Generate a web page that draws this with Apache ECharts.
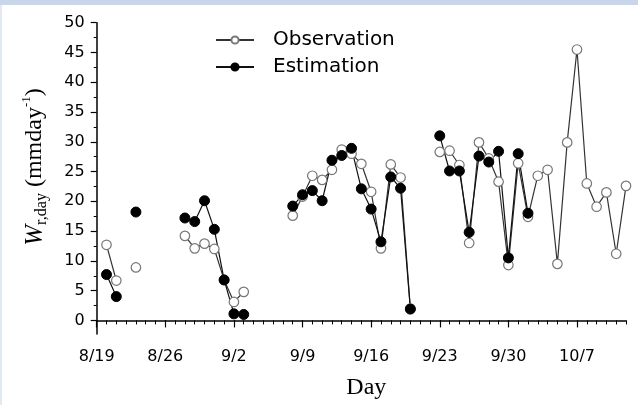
<!DOCTYPE html>
<html>
<head>
<meta charset="utf-8">
<script src="https://cdn.jsdelivr.net/npm/echarts@6/dist/echarts.min.js"></script>
<style>
  html, body { margin: 0; padding: 0; background: #fff; }
  #chart { width: 638px; height: 405px; }
</style>
</head>
<body>
<div id="chart"></div>
<script>
// day 0 = 8/19, one value per day (mm/day), null = no data
const obsValues = [
  null, 12.7, 6.7, null, 8.9, null, null,
  null, null, 14.2, 12.1, 12.9, 12.0, 6.8,
  3.1, 4.8, null, null, null, null, 17.6,
  20.8, 24.3, 23.6, 25.3, 28.7, 28.0, 26.3,
  21.6, 12.1, 26.2, 24.0, 2.0, null, null,
  28.3, 28.5, 26.1, 13.0, 29.9, 27.2, 23.3,
  9.3, 26.4, 17.4, 24.3, 25.3, 9.5, 29.9,
  45.5, 23.0, 19.1, 21.5, 11.2, 22.6
];
const estValues = [
  null, 7.7, 4.0, null, 18.2, null, null,
  null, null, 17.2, 16.6, 20.1, 15.3, 6.8,
  1.1, 1.0, null, null, null, null, 19.2,
  21.1, 21.8, 20.1, 26.9, 27.7, 28.9, 22.1,
  18.7, 13.2, 24.1, 22.2, 1.9, null, null,
  31.0, 25.1, 25.1, 14.8, 27.6, 26.6, 28.4,
  10.5, 28.0, 18.0, null, null, null, null,
  null, null, null, null, null, null
];
// tick labels
const majorDays = [0, 7, 14, 21, 28, 35, 42, 49];
const dateLabels = ['8/19', '8/26', '9/2', '9/9', '9/16', '9/23', '9/30', '10/7'];
const yMajor = [0, 5, 10, 15, 20, 25, 30, 35, 40, 45, 50];
const yMinor = [2.5, 7.5, 12.5, 17.5, 22.5, 27.5, 32.5, 37.5, 42.5, 47.5];
const lastDay = 54;

const chart = echarts.init(document.getElementById('chart'));

function toPoints(values) {
  return values.map((v, i) => [i, v == null ? '-' : v]);
}

const tickFont = { fontFamily: 'DejaVu Sans', fontSize: 16, color: '#000' };
const axisLine = { show: true, lineStyle: { color: '#000', width: 1.5 } };

const option = {
  animation: false,
  backgroundColor: '#fff',
  grid: { left: 96.7, top: 22.7, width: 529.3, height: 311.6 },
  legend: {
    orient: 'vertical',
    left: 215,
    top: 30,
    padding: 0,
    itemWidth: 38,
    itemHeight: 9,
    itemGap: 7,
    textStyle: { fontFamily: 'DejaVu Sans', fontSize: 20, color: '#000', padding: [0, 0, 0, 14] },
    data: ['Observation', 'Estimation']
  },
  xAxis: [
    {
      type: 'value', min: 0, max: lastDay, position: 'bottom',
      axisLine: axisLine,
      axisTick: { length: 7, customValues: majorDays, lineStyle: { color: '#000', width: 1.2 } },
      axisLabel: Object.assign({
        customValues: majorDays, margin: 15,
        formatter: v => dateLabels[majorDays.indexOf(v)] || ''
      }, tickFont),
      splitLine: { show: false },
      name: 'Day', nameLocation: 'middle', nameGap: 42,
      nameTextStyle: { fontFamily: 'Liberation Serif', fontSize: 24, color: '#000', padding: [0, 0, 0, 10] }
    },
    {
      // daily minor ticks
      type: 'value', min: 0, max: lastDay, interval: 1, position: 'bottom',
      axisLine: { show: false },
      axisTick: { length: 4, lineStyle: { color: '#000', width: 1 } },
      axisLabel: { show: false },
      splitLine: { show: false }
    }
  ],
  yAxis: [
    {
      type: 'value', min: -2.28, max: 50, position: 'left',
      axisLine: axisLine,
      axisTick: { length: 6, customValues: yMajor, lineStyle: { color: '#000', width: 1.2 } },
      axisLabel: Object.assign({ customValues: yMajor, margin: 12 }, tickFont),
      splitLine: { show: false }
    },
    {
      type: 'value', min: -2.28, max: 50, position: 'left',
      axisLine: { show: false },
      axisTick: { length: 3, customValues: yMinor, lineStyle: { color: '#000', width: 1 } },
      axisLabel: { show: false },
      splitLine: { show: false }
    }
  ],
  graphic: [
    { type: 'rect', shape: { x: 0, y: 0, width: 638, height: 5 }, style: { fill: '#c9d5e9' } },
    { type: 'rect', shape: { x: 0, y: 5, width: 2, height: 400 }, style: { fill: '#e2e9f3' } },
    {
      // y axis title: W_{r,day} (mmday^-1)
      type: 'text', x: 35, y: 167, rotation: Math.PI / 2,
      style: {
        text: '{w|W}{s|r,day}{n| (mmday}{p|-1}{n|)}',
        align: 'center', verticalAlign: 'middle',
        fill: '#000',
        rich: {
          w: { fontFamily: 'Liberation Serif', fontStyle: 'italic', fontSize: 25, lineHeight: 30, verticalAlign: 'middle' },
          s: { fontFamily: 'Liberation Serif', fontSize: 16, lineHeight: 14, verticalAlign: 'bottom' },
          n: { fontFamily: 'Liberation Serif', fontSize: 24, lineHeight: 30, verticalAlign: 'middle' },
          p: { fontFamily: 'Liberation Serif', fontSize: 13, lineHeight: 13, verticalAlign: 'top' }
        }
      }
    }
  ],
  series: [
    {
      name: 'Observation', type: 'line',
      data: toPoints(obsValues),
      connectNulls: false,
      symbol: 'circle', symbolSize: 9.5,
      itemStyle: { color: '#fff', borderColor: '#777', borderWidth: 1.2 },
      lineStyle: { color: '#333', width: 1.2 }
    },
    {
      name: 'Estimation', type: 'line',
      data: toPoints(estValues),
      connectNulls: false,
      symbol: 'circle', symbolSize: 10,
      itemStyle: { color: '#000', borderColor: '#000', borderWidth: 1 },
      lineStyle: { color: '#111', width: 1.2 }
    }
  ]
};

chart.setOption(option);
</script>
</body>
</html>
